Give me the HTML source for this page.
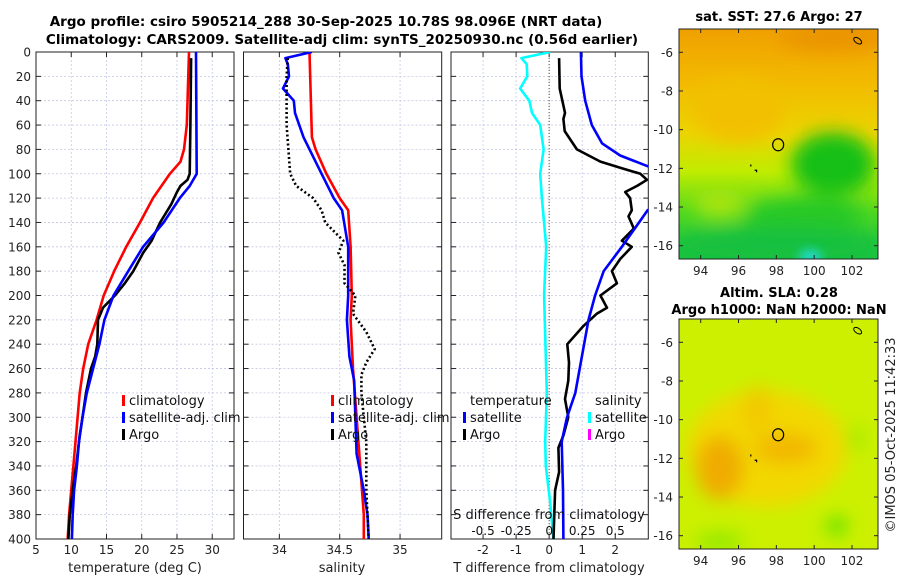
<!DOCTYPE html>
<html><head><meta charset="utf-8"><style>
body{margin:0;background:#fff;}
svg{display:block;font-family:"DejaVu Sans","Liberation Sans",sans-serif;}
</style></head><body>
<svg id="chart" width="900" height="580" viewBox="0 0 900 580">
<defs>
<clipPath id="c1"><rect x="36" y="52" width="198" height="487"/></clipPath>
<clipPath id="c2"><rect x="243.5" y="52" width="198" height="487"/></clipPath>
<clipPath id="c3"><rect x="451" y="52" width="197.5" height="487"/></clipPath>
<clipPath id="m1"><rect x="679" y="29" width="199" height="230"/></clipPath>
<clipPath id="m2"><rect x="679" y="319" width="199" height="230"/></clipPath>
<filter id="bl" x="-50%" y="-50%" width="200%" height="200%"><feGaussianBlur stdDeviation="9"/></filter>
<filter id="bl2" x="-50%" y="-50%" width="200%" height="200%"><feGaussianBlur stdDeviation="5"/></filter>
<linearGradient id="g1" x1="0" y1="0" x2="0" y2="1">
<stop offset="0" stop-color="#f0a000"/><stop offset="0.25" stop-color="#f2bc00"/><stop offset="0.45" stop-color="#ecd400"/><stop offset="0.62" stop-color="#c0ec00"/><stop offset="0.8" stop-color="#50d820"/><stop offset="1" stop-color="#18c440"/>
</linearGradient>
</defs>
<g font-weight="bold" font-size="13.5" text-anchor="middle" fill="#000">
<text x="326" y="26">Argo profile: csiro 5905214_288 30-Sep-2025 10.78S 98.096E (NRT data)</text>
<text x="342" y="44">Climatology: CARS2009. Satellite-adj clim: synTS_20250930.nc (0.56d earlier)</text>
</g>
<g id="plots"></g>
<g id="maps"></g>
<text x="0" y="0" transform="translate(895,435) rotate(-90)" text-anchor="middle" font-size="13" fill="#222">©IMOS 05-Oct-2025 11:42:33</text>
</svg>
<script>
// ---- data ----
const tclimDepth=[0,60,80,90,100,120,140,160,180,200,220,240,260,280,300,320,340,360,380,400];
const tclimVal=[26.7,26.4,26.0,25.5,24.0,21.6,19.75,17.8,16.1,14.6,13.6,12.4,11.7,11.2,10.9,10.6,10.3,10.0,9.7,9.5];
const tsatDepth=[0,100,110,120,140,160,180,200,220,240,260,280,300,320,340,360,380,400];
const tsatVal=[27.7,27.8,26.8,25.4,23.1,20.2,18.1,16.0,14.7,14.0,13.1,12.2,11.6,11.1,10.8,10.4,10.2,10.1];
const targoDepth=[5,60,100,105,110,115,125,140,155,165,180,190,200,210,220,240,250,260,280,300,315,340,360,380,400];
const targoVal=[27.0,26.9,26.8,26.5,25.5,25.0,24.2,22.6,21.4,20.2,18.8,17.6,16.2,14.5,13.8,13.7,13.4,12.8,12.1,11.6,11.2,10.7,10.2,9.8,9.6];
const sclimDepth=[0,70,80,100,120,130,160,200,220,260,300,340,380,400];
const sclimVal=[34.25,34.27,34.30,34.39,34.50,34.57,34.59,34.60,34.59,34.61,34.64,34.67,34.70,34.70];
const ssatDepth=[0,5,10,20,30,40,50,70,100,120,130,160,200,220,250,270,300,330,360,380,400];
const ssatVal=[34.27,34.05,34.07,34.08,34.03,34.12,34.13,34.20,34.35,34.45,34.52,34.57,34.57,34.56,34.58,34.62,34.63,34.64,34.70,34.73,34.74];
const sargoDepth=[5,20,60,100,110,120,130,140,155,165,175,190,200,215,230,244,255,265,280,300,320,360,400];
const sargoVal=[34.07,34.06,34.06,34.09,34.14,34.28,34.35,34.38,34.53,34.49,34.54,34.54,34.63,34.61,34.72,34.79,34.72,34.68,34.68,34.70,34.72,34.72,34.74];
const dsDepth=[0,5,10,20,30,40,50,60,80,100,120,160,200,280,320,340,370,400];
const dsVal=[0.008,-0.21,-0.17,-0.165,-0.22,-0.15,-0.13,-0.068,-0.042,-0.068,-0.055,-0.022,-0.038,-0.018,-0.03,-0.025,0.008,0.032];
const dtArgoDepth=[5,30,50,55,65,80,90,95,100,105,110,115,120,130,135,145,155,160,170,180,190,200,210,215,225,240,255,270,285,300,315,325,345,360,400];
const dtArgoVal=[0.3,0.32,0.48,0.43,0.47,0.84,1.55,2.15,2.76,2.96,2.66,2.3,2.45,2.5,2.4,2.56,2.2,2.5,2.15,1.9,2.05,1.55,1.75,1.44,1.04,0.55,0.6,0.58,0.48,0.58,0.43,0.28,0.3,0.18,0.13];
const dtSatDepth=[0,20,40,60,75,85,93,100,110,120,130,160,180,200,220,280,300,320,360,400];
const dtSatVal=[0.96,0.98,1.09,1.29,1.6,2.15,2.9,3.6,4.0,3.6,2.98,2.2,1.65,1.39,1.19,0.79,0.54,0.38,0.42,0.43];
const depthTicks=[0,20,40,60,80,100,120,140,160,180,200,220,240,260,280,300,320,340,360,380,400];
const tTicks=[5,10,15,20,25,30];
const sTicks=[34,34.5,35];
const dTTicks=[-2,-1,0,1,2];
const dSTicks=[-0.5,-0.25,0,0.25,0.5];
const lonTicks=[94,96,98,100,102];
const latTicks=[-6,-8,-10,-12,-14,-16];
const argoLon=98.096, argoLat=-10.78;

const NS='http://www.w3.org/2000/svg';
function mk(parent,tag,attrs,text){const e=document.createElementNS(NS,tag);for(const k in attrs)e.setAttribute(k,attrs[k]);if(text!==undefined)e.textContent=text;parent.appendChild(e);return e;}
const yD=d=>52+d*(487/400);
function panel(name,x0,x1,vmin,vmax,xticks,clip,showY,labelFmt){
  const g=mk(document.getElementById('plots'),'g',{});
  
  
  const sx=v=>x0+(v-vmin)/(vmax-vmin)*(x1-x0);
  const grid=mk(g,'g',{stroke:'#c4c8e4','stroke-width':'0.8','stroke-dasharray':'2,2'});
  
  
  depthTicks.forEach(d=>{mk(grid,'line',{x1:x0,x2:x1,y1:yD(d),y2:yD(d)});});
  xticks.forEach(v=>{mk(grid,'line',{x1:sx(v),x2:sx(v),y1:52,y2:539});});
  const ax=mk(g,'g',{stroke:'#222','stroke-width':'1'});
  
  
  mk(ax,'rect',{x:x0,y:52,width:x1-x0,height:487,fill:'none'});
  depthTicks.forEach(d=>{mk(ax,'line',{x1:x0,x2:x0+5,y1:yD(d),y2:yD(d)});mk(ax,'line',{x1:x1-5,x2:x1,y1:yD(d),y2:yD(d)});});
  xticks.forEach(v=>{mk(ax,'line',{x1:sx(v),x2:sx(v),y1:539,y2:534});mk(ax,'line',{x1:sx(v),x2:sx(v),y1:52,y2:57});});
  if(showY){const yl=mk(g,'g',{'font-size':'12','text-anchor':'end',fill:'#222'});
    
    
    depthTicks.forEach(d=>mk(yl,'text',{x:x0-5,y:yD(d)+4.5},String(d)));}
  const xl=mk(g,'g',{'font-size':'12','text-anchor':'middle',fill:'#222'});
  
  
  xticks.forEach(v=>mk(xl,'text',{x:sx(v),y:554},labelFmt(v)));
  return {g,sx};
}
function line(p,depths,vals,color,w,dash,clip,name){
  let d='';depths.forEach((dp,i)=>{d+=(i?'L':'M')+p.sx(vals[i]).toFixed(1)+','+yD(dp).toFixed(1);});
  const a={d:d,fill:'none',stroke:color,'stroke-width':w,'stroke-linejoin':'round','clip-path':'url(#'+clip+')'};
  if(dash)a['stroke-dasharray']=dash;
  const e=mk(p.g,'path',a);
  
  
  return e;
}
function legend(g,x,y,color,label,name){
  const lg=mk(g,'g',{});
  
  
  mk(lg,'rect',{x:x-7,y:y-10,width:3,height:11,fill:color});
  mk(lg,'text',{x:x,y:y,'font-size':'13',fill:'#111'},label);
}
// Panel 1 temperature
const p1=panel('temperature-panel',36,234,5,33.09,tTicks,'c1',true,v=>String(v));
line(p1,tclimDepth,tclimVal,'#ff0000',2.6,null,'c1','temp-climatology-line');
line(p1,targoDepth,targoVal,'#000',2.6,null,'c1','temp-argo-line');
line(p1,tsatDepth,tsatVal,'#0000ff',2.6,null,'c1','temp-satellite-line');
mk(p1.g,'text',{x:135,y:572,'font-size':'13','text-anchor':'middle',fill:'#222'},'temperature (deg C)');
legend(p1.g,129,405,'#ff0000','climatology','legend-climatology');
legend(p1.g,129,422,'#0000ff','satellite-adj. clim','legend-satellite-adj');
legend(p1.g,129,439,'#000','Argo','legend-argo');
// Panel 2 salinity
const p2=panel('salinity-panel',243.5,441.7,33.703,35.345,sTicks,'c2',false,v=>String(v));
line(p2,sclimDepth,sclimVal,'#ff0000',2.6,null,'c2','sal-climatology-line');
line(p2,ssatDepth,ssatVal,'#0000ff',2.6,null,'c2','sal-satellite-line');
line(p2,sargoDepth,sargoVal,'#000',2.6,'2,2.5','c2','sal-argo-line');
mk(p2.g,'text',{x:342,y:572,'font-size':'13','text-anchor':'middle',fill:'#222'},'salinity');
legend(p2.g,338,405,'#ff0000','climatology','legend-sal-climatology');
legend(p2.g,338,422,'#0000ff','satellite-adj. clim','legend-sal-satellite-adj');
legend(p2.g,338,439,'#000','Argo','legend-sal-argo');
// Panel 3 differences
const p3=panel('difference-panel',451,648.3,-2.97,3.0,dTTicks,'c3',false,v=>String(v));
const zl=mk(p3.g,'line',{x1:p3.sx(0),x2:p3.sx(0),y1:52,y2:539,stroke:'#555522','stroke-width':'1','stroke-dasharray':'1,2'});


const p3s={g:p3.g,sx:v=>p3.sx(v*4)};
line(p3s,dsDepth,dsVal,'#00ffff',2.6,null,'c3','sal-diff-satellite-line');
line(p3,dtArgoDepth,dtArgoVal,'#000',2.6,null,'c3','temp-diff-argo-line');
line(p3,dtSatDepth,dtSatVal,'#0000ff',2.6,null,'c3','temp-diff-satellite-line');
mk(p3.g,'text',{x:549,y:572,'font-size':'13','text-anchor':'middle',fill:'#222'},'T difference from climatology');
mk(p3.g,'text',{x:549,y:519,'font-size':'13','text-anchor':'middle',fill:'#111'},'S difference from climatology');
const sl=mk(p3.g,'g',{'font-size':'12','text-anchor':'middle',fill:'#111'});


dSTicks.forEach(v=>mk(sl,'text',{x:p3s.sx(v),y:535},String(v)));
mk(p3.g,'text',{x:470,y:405,'font-size':'13',fill:'#111'},'temperature');
mk(p3.g,'text',{x:595,y:405,'font-size':'13',fill:'#111'},'salinity');
legend(p3.g,470,422,'#0000ff','satellite','legend-t-satellite');
legend(p3.g,470,439,'#000','Argo','legend-t-argo');
legend(p3.g,595,422,'#00ffff','satellite','legend-s-satellite');
legend(p3.g,595,439,'#ff00ff','Argo','legend-s-argo');

// ---- maps ----
function map(name,y0,clip,draw,titles){
  const g=mk(document.getElementById('maps'),'g',{});
  
  
  const lx=v=>700.7+(v-94)*18.91, ly=v=>y0+23.3+(-6-v)*19.34;
  const img=mk(g,'g',{'clip-path':'url(#'+clip+')'});
  
  
  draw(img,lx,ly);
  const c=mk(g,'ellipse',{cx:lx(argoLon),cy:ly(argoLat),rx:5.5,ry:6,fill:'none',stroke:'#000','stroke-width':'1.2'});
  
  
  mk(g,'path',{d:`M${lx(96.65)},${ly(-11.8)}v2M${lx(96.85)},${ly(-12.1)}h2v2`,stroke:'#000','stroke-width':'1.2',fill:'none'});
  mk(g,'ellipse',{cx:lx(102.3),cy:ly(-5.4),rx:4.5,ry:2.5,transform:`rotate(35 ${lx(102.3)} ${ly(-5.4)})`,fill:'none',stroke:'#000','stroke-width':'1'});
  const ax=mk(g,'g',{stroke:'#222','stroke-width':'1'});
  mk(ax,'rect',{x:679,y:y0,width:199,height:230,fill:'none'});
  lonTicks.forEach(v=>{mk(ax,'line',{x1:lx(v),x2:lx(v),y1:y0+230,y2:y0+226});mk(ax,'line',{x1:lx(v),x2:lx(v),y1:y0,y2:y0+4});});
  latTicks.forEach(v=>{mk(ax,'line',{x1:679,x2:683,y1:ly(v),y2:ly(v)});mk(ax,'line',{x1:874,x2:878,y1:ly(v),y2:ly(v)});});
  const tl=mk(g,'g',{'font-size':'12',fill:'#222'});
  
  
  lonTicks.forEach(v=>mk(tl,'text',{x:lx(v),y:y0+246,'text-anchor':'middle'},String(v)));
  latTicks.forEach(v=>mk(tl,'text',{x:673,y:ly(v)+4.5,'text-anchor':'end'},String(v)));
  titles.forEach((t,i)=>{const e=mk(g,'text',{x:779,y:t[1],'font-size':'13','font-weight':'bold','text-anchor':'middle',fill:'#000'},t[0]);});
}
map('sst-map',29,'m1',(g,lx,ly)=>{
  mk(g,'rect',{x:679,y:29,width:199,height:230,fill:'url(#g1)'});
  const b=mk(g,'g',{filter:'url(#bl)'});
  mk(b,'ellipse',{cx:lx(96),cy:ly(-9),rx:45,ry:32,fill:'#f2c000'});
  mk(b,'ellipse',{cx:lx(101),cy:ly(-5.2),rx:55,ry:14,fill:'#ea9400'});
  mk(b,'ellipse',{cx:lx(101),cy:ly(-11.8),rx:42,ry:32,fill:'#14c018'});
  mk(b,'ellipse',{cx:lx(99.5),cy:ly(-14.5),rx:60,ry:18,fill:'#28c828'});
  mk(b,'ellipse',{cx:lx(98),cy:ly(-16),rx:110,ry:18,fill:'#18c040'});
  mk(b,'ellipse',{cx:lx(95),cy:ly(-13.8),rx:25,ry:14,fill:'#a8e410'});
  mk(g,'ellipse',{cx:lx(99.8),cy:ly(-16.6),rx:12,ry:8,fill:'#20d8c8',filter:'url(#bl2)'});
},[['sat. SST: 27.6 Argo: 27',21]]);
map('sla-map',319,'m2',(g,lx,ly)=>{
  mk(g,'rect',{x:679,y:319,width:199,height:230,fill:'#ccf000'});
  const b=mk(g,'g',{filter:'url(#bl)'});
  mk(b,'ellipse',{cx:lx(97.5),cy:ly(-11.5),rx:80,ry:58,fill:'#f2d800'});
  mk(b,'ellipse',{cx:lx(95),cy:ly(-12.5),rx:24,ry:32,fill:'#f0ac00'});
  mk(b,'ellipse',{cx:lx(98.5),cy:ly(-11.5),rx:32,ry:16,fill:'#f2b800'});
  mk(b,'ellipse',{cx:lx(97),cy:ly(-9.5),rx:14,ry:24,fill:'#f2c800'});
  mk(b,'ellipse',{cx:lx(101.2),cy:ly(-15.5),rx:10,ry:9,fill:'#50e000'});
  mk(b,'ellipse',{cx:lx(95),cy:ly(-16.3),rx:25,ry:8,fill:'#88e800'});
  mk(b,'ellipse',{cx:lx(102.2),cy:ly(-11),rx:8,ry:14,fill:'#a0ec00'});
},[['Altim. SLA: 0.28',297],['Argo h1000: NaN h2000: NaN',314]]);
</script>
</body></html>
